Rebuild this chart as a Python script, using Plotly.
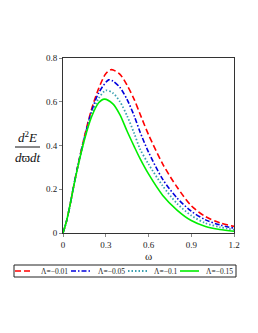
import plotly.graph_objects as go

# omega sample points for each curve
w_red = [0, 0.025, 0.05, 0.075, 0.1, 0.15, 0.2, 0.25, 0.3, 0.34, 0.4, 0.45, 0.5, 0.54, 0.6, 0.7, 0.8, 0.9, 1.0, 1.1, 1.2]
e_red = [0, 0.055, 0.13, 0.215, 0.295, 0.44, 0.565, 0.66, 0.728, 0.747, 0.725, 0.675, 0.61, 0.545, 0.45, 0.315, 0.21, 0.125, 0.075, 0.047, 0.03]

w_blue = [0, 0.025, 0.05, 0.075, 0.1, 0.15, 0.2, 0.25, 0.32, 0.35, 0.4, 0.45, 0.5, 0.54, 0.6, 0.7, 0.8, 0.9, 1.0, 1.1, 1.2]
e_blue = [0, 0.055, 0.13, 0.215, 0.295, 0.435, 0.555, 0.64, 0.70, 0.695, 0.665, 0.61, 0.535, 0.463, 0.37, 0.245, 0.16, 0.10, 0.06, 0.037, 0.022]

w_teal = [0, 0.025, 0.05, 0.075, 0.1, 0.15, 0.2, 0.25, 0.3, 0.35, 0.4, 0.45, 0.5, 0.54, 0.6, 0.7, 0.8, 0.9, 1.0, 1.1, 1.2]
e_teal = [0, 0.055, 0.13, 0.215, 0.292, 0.43, 0.54, 0.615, 0.652, 0.64, 0.60, 0.535, 0.455, 0.385, 0.315, 0.215, 0.135, 0.08, 0.045, 0.027, 0.015]

w_green = [0, 0.025, 0.05, 0.075, 0.1, 0.15, 0.2, 0.25, 0.29, 0.35, 0.4, 0.45, 0.5, 0.54, 0.6, 0.7, 0.8, 0.9, 1.0, 1.1, 1.2]
e_green = [0, 0.055, 0.13, 0.213, 0.29, 0.425, 0.53, 0.595, 0.612, 0.59, 0.54, 0.465, 0.395, 0.341, 0.27, 0.172, 0.105, 0.057, 0.03, 0.016, 0.008]

names = ["Λ=−0.01", "Λ=−0.05", "Λ=−0.1", "Λ=−0.15"]
x_ticks = [0, 0.3, 0.6, 0.9, 1.2]
x_tick_labels = ["0", "0.3", "0.6", "0.9", "1.2"]
y_ticks = [0, 0.2, 0.4, 0.6, 0.8]
y_tick_labels = ["0", "0.2", "0.4", "0.6", "0.8"]

styles = [
    dict(color="#ff0000", dash="6px,3px", width=1.6),
    dict(color="#0000dd", dash="5px,2px,1.5px,2px", width=1.6),
    dict(color="#3aa0b0", dash="1.5px,2px", width=1.8),
    dict(color="#00ee00", dash="solid", width=1.6),
]

W, H = 250, 325
L, R, T, B = 55, 24, 50, 100
PW, PH = W - L - R, H - T - B


def px(x):
    return (x - L) / PW


def py(y):
    return (H - B - y) / PH


fig = go.Figure()
for (w, e), nm, st in zip([(w_red, e_red), (w_blue, e_blue), (w_teal, e_teal), (w_green, e_green)], names, styles):
    fig.add_trace(go.Scatter(x=w, y=e, mode="lines", name=nm, showlegend=False,
                             line=dict(shape="spline", smoothing=0.8, **st)))

font = "Liberation Serif, Times New Roman, serif"
fig.update_layout(
    width=W, height=H,
    margin=dict(l=L, r=R, t=T, b=B),
    paper_bgcolor="white", plot_bgcolor="white",
    font=dict(family=font, size=9, color="#222"),
    showlegend=False,
    xaxis=dict(range=[0, 1.2], tickvals=x_ticks, ticktext=x_tick_labels, showgrid=False, zeroline=False,
               showline=True, linecolor="#333", linewidth=1, mirror=True, ticks="outside", ticklen=3,
               tickcolor="#888", title=dict(text="ω", font=dict(size=11, family=font), standoff=2)),
    yaxis=dict(range=[0, 0.8], tickvals=y_ticks, ticktext=y_tick_labels, showgrid=False, zeroline=False,
               showline=True, linecolor="#333", linewidth=1, mirror=True, ticks="outside", ticklen=3,
               tickcolor="#888"),
)

# y-axis title as a fraction
fx = px(19.5)
fig.add_annotation(xref="paper", yref="paper", x=fx, y=py(139), xanchor="center", yanchor="bottom",
                   text="<i>d</i><sup>2</sup><i>E</i>", showarrow=False, font=dict(size=13, family=font, color="#111"))
fig.add_annotation(xref="paper", yref="paper", x=fx, y=py(140), xanchor="center", yanchor="top",
                   text="<i>d</i>ϖ<i>dt</i>", showarrow=False, font=dict(size=13, family=font, color="#111"))
fig.add_shape(type="line", xref="paper", yref="paper", x0=px(7), x1=px(32), y0=py(139), y1=py(139),
              line=dict(color="#111", width=1))

# legend box drawn below the plot
fig.add_shape(type="rect", xref="paper", yref="paper", x0=px(6), x1=px(228), y0=py(257), y1=py(269),
              line=dict(color="#222", width=1), fillcolor="white")
sample_x = [(7, 25), (63, 82), (120, 139), (172, 191)]
text_x = [31, 88, 144, 196]
for (a, b), tx, nm, st in zip(sample_x, text_x, names, styles):
    fig.add_shape(type="line", xref="paper", yref="paper", x0=px(a), x1=px(b), y0=py(263), y1=py(263),
                  line=dict(color=st["color"], dash=st["dash"], width=st["width"]))
    fig.add_annotation(xref="paper", yref="paper", x=px(tx), y=py(263), xanchor="left", yanchor="middle",
                       text=nm, showarrow=False, font=dict(size=7.5, family=font, color="#222"))

fig.write_html("out.html")
